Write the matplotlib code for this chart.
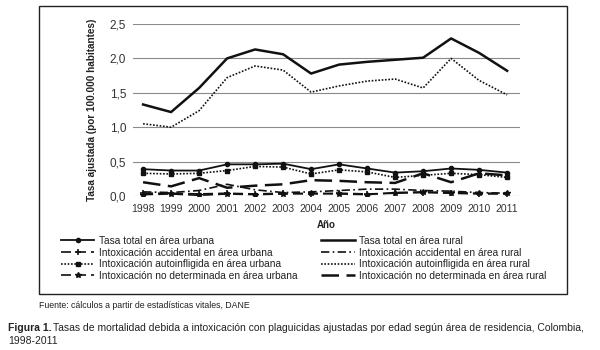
import matplotlib
matplotlib.use("Agg")
import matplotlib.pyplot as plt
from matplotlib.patches import Rectangle

plt.rcParams['font.family'] = ['Liberation Sans', 'DejaVu Sans']

years = list(range(1998, 2012))
total_urbana = [0.39, 0.37, 0.37, 0.46, 0.46, 0.47, 0.39, 0.46, 0.40, 0.34, 0.36, 0.40, 0.38, 0.34]
total_rural = [1.33, 1.22, 1.57, 2.00, 2.13, 2.06, 1.78, 1.91, 1.95, 1.98, 2.01, 2.29, 2.08, 1.82]
accid_urbana = [0.04, 0.04, 0.03, 0.04, 0.03, 0.04, 0.03, 0.04, 0.03, 0.04, 0.05, 0.04, 0.03, 0.03]
accid_rural = [0.06, 0.05, 0.08, 0.17, 0.09, 0.05, 0.06, 0.08, 0.10, 0.10, 0.08, 0.07, 0.05, 0.04]
auto_urbana = [0.33, 0.32, 0.33, 0.37, 0.43, 0.42, 0.32, 0.38, 0.35, 0.27, 0.30, 0.33, 0.31, 0.27]
auto_rural = [1.05, 1.00, 1.24, 1.72, 1.89, 1.83, 1.51, 1.60, 1.67, 1.70, 1.57, 2.00, 1.68, 1.47]
nodet_urbana = [0.02, 0.03, 0.01, 0.03, 0.02, 0.03, 0.04, 0.03, 0.02, 0.05, 0.06, 0.05, 0.04, 0.04]
nodet_rural = [0.20, 0.14, 0.26, 0.12, 0.15, 0.17, 0.23, 0.22, 0.20, 0.19, 0.33, 0.20, 0.33, 0.30]

yticks = [0.0, 0.5, 1.0, 1.5, 2.0, 2.5]
ytick_labels = ["0,0", "0,5", "1,0", "1,5", "2,0", "2,5"]

W, H = 600, 350
fig = plt.figure(figsize=(6, 3.5), dpi=100)
fig.patches.append(Rectangle((39/W, 1-294/H), (567-39)/W, (294-6)/H,
                             transform=fig.transFigure, fill=False, ec='#222222', lw=1.0))

ax = fig.add_axes([133/W, 1-196/H, (520-133)/W, (196-24)/H])
ax.set_ylim(0, 2.5)
ax.set_xlim(1997.64, 2011.46)
ax.set_yticks(yticks)
ax.set_yticklabels(ytick_labels, fontsize=8.5)
ax.set_xticks(years)
ax.set_xticklabels([str(y) for y in years], fontsize=7.5)
ax.tick_params(length=0, colors='#333333')
ax.tick_params(axis='y', pad=5)
ax.tick_params(axis='x', pad=6)
for s in ax.spines.values():
    s.set_visible(False)
ax.grid(axis='y', color='#8a8a8a', lw=0.8)
ax.set_axisbelow(True)
ax.set_xlabel("Año", fontsize=7, fontweight='bold', color='#222222', labelpad=4)
ax.set_ylabel("Tasa ajustada (por 100.000 habitantes)", fontsize=7.2, fontweight='bold',
              color='#222222', labelpad=9)

h1, = ax.plot(years, total_urbana, color='#111111', lw=1.3, marker='o', ms=3)
h3, = ax.plot(years, accid_urbana, color='#111111', lw=1.2, ls=(0, (6, 3)), marker='+', ms=4, mew=1.2)
h5, = ax.plot(years, auto_urbana, color='#111111', lw=1.2, ls=(0, (1, 1)), marker='s', ms=3.5)
h7, = ax.plot(years, nodet_urbana, color='#111111', lw=1.2, ls=(0, (6, 3)), marker='*', ms=4)
h2, = ax.plot(years, total_rural, color='#111111', lw=1.8)
h4, = ax.plot(years, accid_rural, color='#111111', lw=1.2, ls=(0, (5, 2, 1, 2)))
h6, = ax.plot(years, auto_rural, color='#111111', lw=1.2, ls=(0, (1, 1)))
h8, = ax.plot(years, nodet_rural, color='#111111', lw=1.8, ls=(0, (7, 3)))

handles = [h1, h3, h5, h7, h2, h4, h6, h8]
labels = ["Tasa total en área urbana",
          "Intoxicación accidental en área urbana",
          "Intoxicación autoinfligida en área urbana",
          "Intoxicación no determinada en área urbana",
          "Tasa total en área rural",
          "Intoxicación accidental en área rural",
          "Intoxicación autoinfligida en área rural",
          "Intoxicación no determinada en área rural"]
leg = fig.legend(handles, labels, ncol=2, loc='upper left', bbox_to_anchor=(61/W, 1-236/H),
                 frameon=False, fontsize=7.3, handlelength=3.3, handletextpad=0.4,
                 columnspacing=2.4, labelspacing=0.16, borderaxespad=0, borderpad=0,
                 numpoints=1)
for t in leg.get_texts():
    t.set_color('#222222')

fig.text(39/W, 1-306/H, "Fuente: cálculos a partir de estadísticas vitales, DANE",
         fontsize=6.3, color='#222222', va='center')
fig.text(8/W, 1-328/H, "Figura 1.", fontsize=7.5, fontweight='bold', color='#222222', va='center')
fig.text(53/W, 1-328/H,
         "Tasas de mortalidad debida a intoxicación con plaguicidas ajustadas por edad según área de residencia, Colombia,",
         fontsize=7.5, color='#222222', va='center')
fig.text(8/W, 1-341/H, "1998-2011", fontsize=7.5, color='#222222', va='center')

fig.savefig("out.png", dpi=100)
